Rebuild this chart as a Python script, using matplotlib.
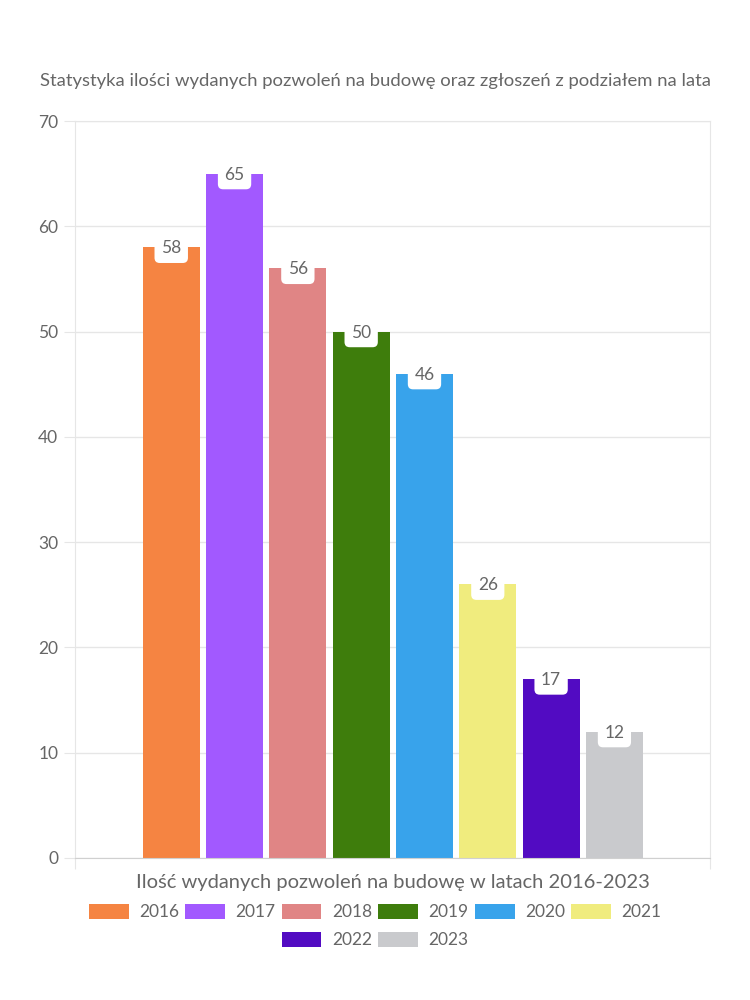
import numpy as np
import matplotlib.pyplot as plt
from matplotlib.patches import Patch

years = ["2016", "2017", "2018", "2019", "2020", "2021", "2022", "2023"]
permits = [58, 65, 56, 50, 46, 26, 17, 12]
colors = ["#F58442", "#A259FF", "#E08585", "#3E7D0C", "#38A3EB", "#F0EC7E", "#520BC2", "#C9CACD"]
yticks = [0, 10, 20, 30, 40, 50, 60, 70]

title = "Statystyka ilości wydanych pozwoleń na budowę oraz zgłoszeń z podziałem na lata"
xlabel = "Ilość wydanych pozwoleń na budowę w latach 2016-2023"

text_color = "#666666"
grid_color = "#E6E6E6"

plt.rcParams['font.family'] = ['Lato', 'DejaVu Sans']

fig = plt.figure(figsize=(7.5, 10), dpi=100)
ax = fig.add_axes([0.1, 0.142, 0.8467, 0.737])

x = np.arange(len(years))
bars = ax.bar(x, permits, width=0.9, color=colors, zorder=2)

# value labels sitting in a white tab at the top of each bar
for xi, v in zip(x, permits):
    ax.text(xi, v - 0.1, str(v), ha="center", va="center", fontsize=12.5, color=text_color,
            zorder=3,
            bbox=dict(boxstyle="round,pad=0.38,rounding_size=0.3", fc="white", ec="none"))

ax.set_xlim(-1.52, 8.51)
ax.set_ylim(0, 70)
ax.set_yticks(yticks)
ax.set_yticklabels([str(t) for t in yticks], fontsize=12.5, color=text_color)
ax.set_xticks([-1.52, 8.51])
ax.set_xticklabels(["", ""])
ax.tick_params(axis="y", length=8, color=grid_color, pad=4)
ax.tick_params(axis="x", length=8, color=grid_color)
ax.grid(axis="y", color=grid_color, linewidth=1, zorder=0)
for side in ["left", "right", "top"]:
    ax.spines[side].set_color(grid_color)
ax.spines["bottom"].set_color("#D0D0D0")

ax.set_xlabel(xlabel, fontsize=14.5, color=text_color, labelpad=0)
fig.text(0.5, 0.919, title, ha="center", va="center", fontsize=13.3, color=text_color)

handles = [Patch(facecolor=c, edgecolor="none") for c in colors]
leg_opts = dict(loc="center", frameon=False, fontsize=12.5, handlelength=2.3, handleheight=1.0,
                columnspacing=0.35, handletextpad=0.6, labelcolor=text_color)
leg1 = fig.legend(handles[:6], years[:6], bbox_to_anchor=(0.5, 0.088), ncol=6, **leg_opts)
leg2 = fig.legend(handles[6:], years[6:], bbox_to_anchor=(0.5, 0.060), ncol=2, **leg_opts)

fig.savefig("out.png", dpi=100, facecolor="white")
